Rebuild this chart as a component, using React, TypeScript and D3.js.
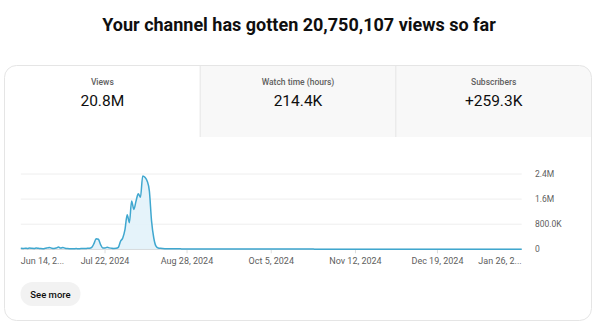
import React from 'react';
import * as d3 from 'd3';

const title = 'Your channel has gotten 20,750,107 views so far';
const tabLabels = ['Views', 'Watch time (hours)', 'Subscribers'];
const tabValues = ['20.8M', '214.4K', '+259.3K'];
const buttonLabel = 'See more';

const startDate = '2024-06-14';
// daily views in thousands, Jun 14 2024 .. Jan 26 2025
const viewsEarlyK = [
  30, 25, 35, 28, 40, 30, 25, 38, 30, 22, 20, 30, 45, 60, 35, 28, 40, 72, 40, 55,
  35, 25, 20, 18, 20, 22, 20, 22, 25, 25, 30, 32, 60, 180, 340, 320, 150, 40, 45, 65,
  45, 30, 25, 30,
];
const viewsPeakK = [
  60, 256, 360, 627, 1100, 850, 1540, 1270, 1540, 1770, 1660, 2340, 2300, 2180, 1860, 900, 360, 100, 40,
];
const viewsTailK = [
  30, 24, 20, 18, 17, 16, 15, 15, 14, 14, 13, 13, 12, 12, 12, 11, 11, 11, 10, 10,
  10, 10, 10, 9, 9, 9, 9, 9, 8, 8, 8, 8, 8, 8, 8, 8, 7, 7, 7, 7,
  7, 7, 7, 7, 7, 7, 7, 7, 7, 6, 6, 6, 6, 6, 6, 6, 6, 6, 6, 6,
  6, 6, 6, 6, 6, 6, 6, 6, 6, 6, 5, 5, 5, 5, 5, 5, 5, 5, 5, 5,
  5, 5, 5, 5, 5, 5, 5, 5, 5, 5, 5, 5, 5, 5, 5, 5, 5, 5, 5, 5,
  5, 5, 5, 5, 5, 4, 4, 4, 4, 4, 4, 4, 4, 4, 4, 4, 4, 4, 4, 4,
  4, 4, 4, 4, 4, 4, 4, 4, 4, 4, 4, 4, 4, 4, 4, 4, 4, 4, 4, 4,
  4, 4, 4, 4, 4, 4, 4, 4, 4, 4, 4, 4, 4, 4, 4, 4, 4, 4, 4, 4,
  4, 4, 4, 3,
];

const xTickDates = ['2024-06-14', '2024-07-22', '2024-08-28', '2024-10-05', '2024-11-12', '2024-12-19', '2025-01-26'];
const xTickLabels = ['Jun 14, 2...', 'Jul 22, 2024', 'Aug 28, 2024', 'Oct 5, 2024', 'Nov 12, 2024', 'Dec 19, 2024', 'Jan 26, 2...'];
const yTicks = [0, 800000, 1600000, 2400000];
const yTickLabels = ['0', '800.0K', '1.6M', '2.4M'];

const W = 600;
const H = 331;
const FONT = 'Roboto, "Noto Sans", Arial, sans-serif';

export default function App() {
  const parse = d3.utcParse('%Y-%m-%d');
  const start = parse(startDate) as Date;
  const viewsK = [...viewsEarlyK, ...viewsPeakK, ...viewsTailK];
  const data = viewsK.map((v, i) => ({ date: d3.utcDay.offset(start, i), value: v * 1000 }));
  const tickDates = xTickDates.map((s) => parse(s) as Date);

  const x = d3.scaleUtc().domain([tickDates[0], tickDates[tickDates.length - 1]]).range([20.8, 521.7]);
  const y = d3.scaleLinear().domain([0, 2400000]).range([249.3, 174]);

  const line = d3.line<{ date: Date; value: number }>().x((d) => x(d.date)).y((d) => y(d.value)).curve(d3.curveMonotoneX);
  const area = d3.area<{ date: Date; value: number }>().x((d) => x(d.date)).y0(y(0)).y1((d) => y(d.value)).curve(d3.curveMonotoneX);

  const cardX = 4.5, cardY = 65.5, cardW = 587, cardH = 255, r = 12;
  const tabW = cardW / 3;
  const tabH = 71.5;

  return (
    <div style={{ position: 'absolute', left: 0, top: 0 }}>
      <svg width={W} height={H} viewBox={`0 0 ${W} ${H}`} style={{ display: 'block', fontFamily: FONT }}>
        <rect x={0} y={0} width={W} height={H} fill="#ffffff" />
        <text x={299} y={31} textAnchor="middle" fontSize={18} fontWeight={700} fill="#0f0f0f">
          {title}
        </text>
        <defs>
          <clipPath id="cardClip">
            <rect x={cardX} y={cardY} width={cardW} height={cardH} rx={r} ry={r} />
          </clipPath>
        </defs>
        <rect x={cardX} y={cardY} width={cardW} height={cardH} rx={r} ry={r} fill="#ffffff" />
        <g clipPath="url(#cardClip)">
          {tabLabels.map((t, i) => (
            <rect key={t} x={cardX + i * tabW} y={cardY} width={tabW} height={tabH} fill={i === 0 ? '#ffffff' : '#f8f8f8'} />
          ))}
          {[1, 2].map((i) => (
            <line key={i} x1={cardX + i * tabW} x2={cardX + i * tabW} y1={cardY} y2={cardY + tabH} stroke="#e5e5e5" strokeWidth={1} />
          ))}
        </g>
        <rect x={cardX} y={cardY} width={cardW} height={cardH} rx={r} ry={r} fill="none" stroke="#e5e5e5" strokeWidth={1} />
        {tabLabels.map((t, i) => (
          <g key={t}>
            <text x={cardX + (i + 0.5) * tabW} y={84.5} textAnchor="middle" fontSize={8.5} fontWeight={500} fill="#606060">
              {t}
            </text>
            <text x={cardX + (i + 0.5) * tabW} y={106} textAnchor="middle" fontSize={15.5} fill="#0f0f0f">
              {tabValues[i]}
            </text>
          </g>
        ))}

        {yTicks.map((v, i) => (
          <g key={v}>
            <line x1={x.range()[0]} x2={x.range()[1]} y1={y(v)} y2={y(v)} stroke={i === 0 ? '#cccccc' : '#eeeeee'} strokeWidth={1} />
            <text x={535} y={y(v)} dy="0.35em" fontSize={8.5} fill="#606060">
              {yTickLabels[i]}
            </text>
          </g>
        ))}
        {tickDates.slice(1, -1).map((d, i) => (
          <line key={i} x1={x(d)} x2={x(d)} y1={y(0)} y2={y(0) + 4} stroke="#dddddd" strokeWidth={1} />
        ))}
        <path d={area(data) || ''} fill="#e2f2f9" fillOpacity={0.9} />
        <path d={line(data) || ''} fill="none" stroke="#3fa7cf" strokeWidth={1.5} strokeLinejoin="round" />
        {tickDates.map((d, i) => (
          <text
            key={i}
            x={x(d)}
            y={264}
            textAnchor={i === 0 ? 'start' : i === tickDates.length - 1 ? 'end' : 'middle'}
            fontSize={9}
            fill="#606060"
          >
            {xTickLabels[i]}
          </text>
        ))}

        <rect x={20.5} y={282} width={60} height={24} rx={12} ry={12} fill="#f2f2f2" />
        <text x={50.5} y={297.5} textAnchor="middle" fontSize={9.5} fontWeight={500} fill="#0f0f0f">
          {buttonLabel}
        </text>
      </svg>
    </div>
  );
}
